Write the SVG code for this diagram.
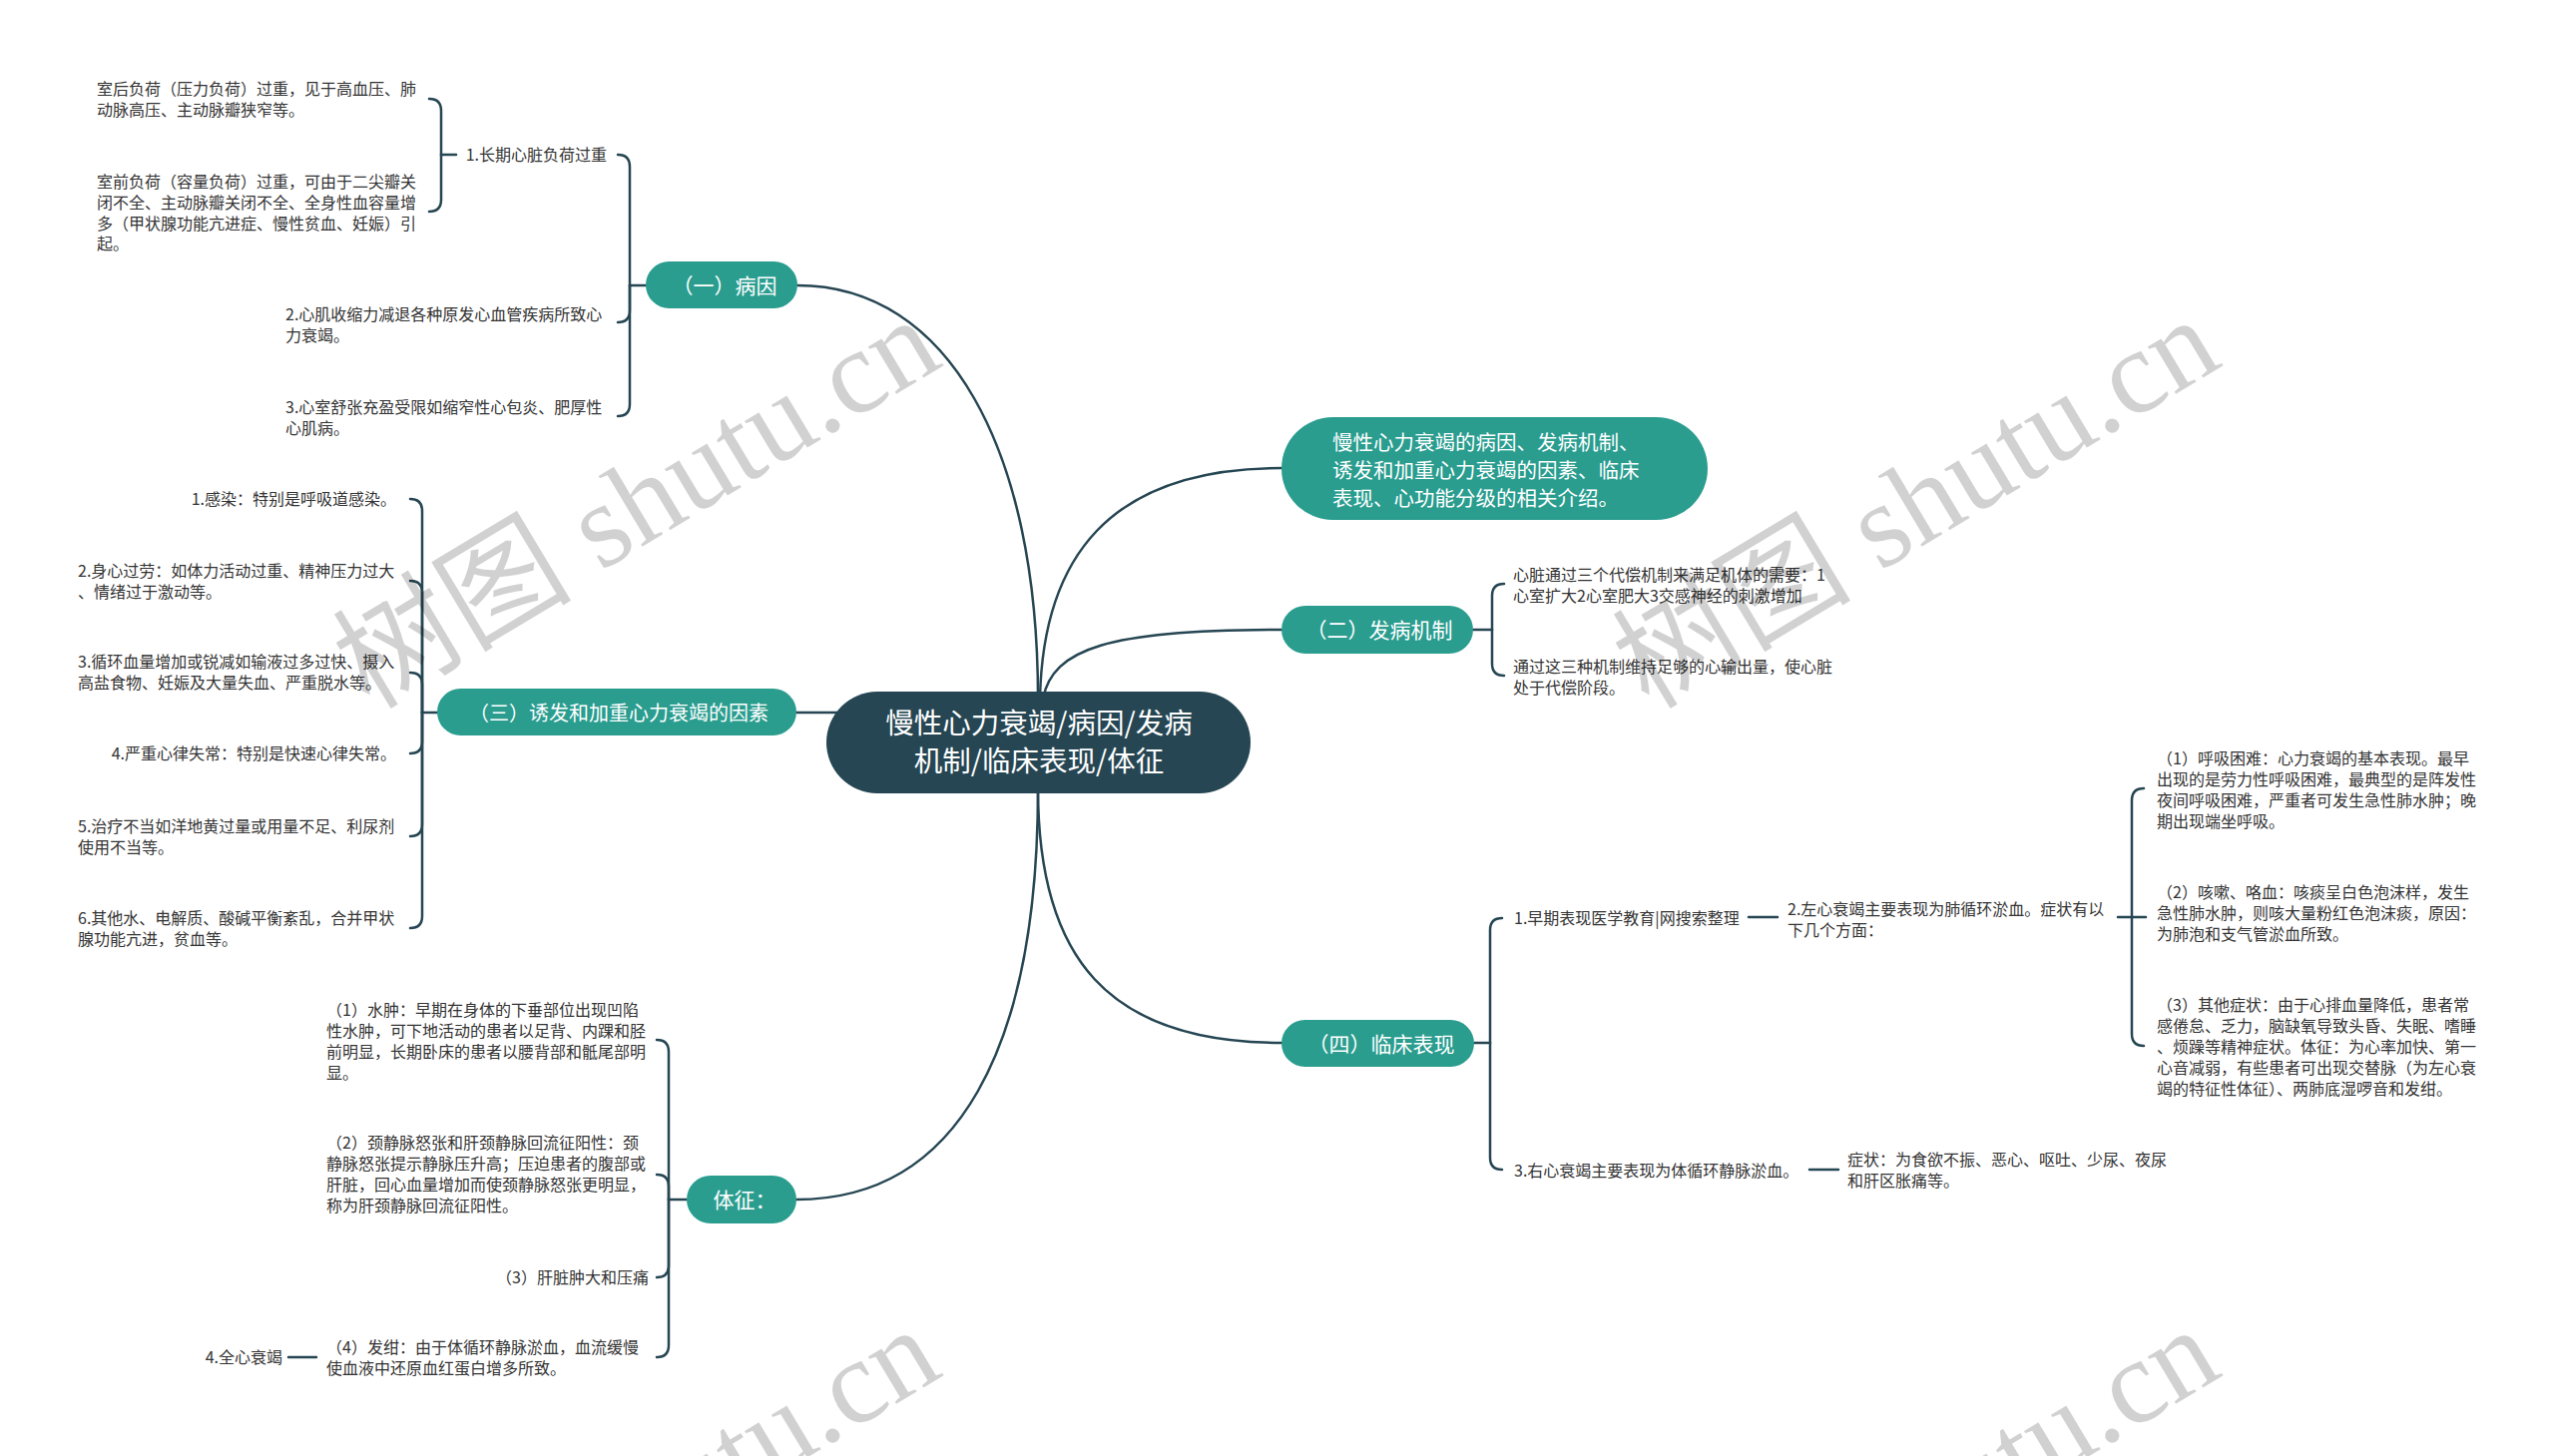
<svg xmlns="http://www.w3.org/2000/svg" width="2560" height="1459" viewBox="0 0 2560 1459">
<style>
.bg{fill:#ffffff}
.ln{fill:none;stroke:#264653;stroke-width:2.5;stroke-linecap:round}
.root{fill:#264653}
.main{fill:#2a9d8f}
.rt{font-family:"Noto Sans CJK SC","Noto Sans",sans-serif;font-size:28.5px;fill:#ffffff;text-anchor:middle}
.mt{font-family:"Noto Sans CJK SC","Noto Sans",sans-serif;font-size:21px;fill:#ffffff;text-anchor:middle}
.dt{font-family:"Noto Sans CJK SC","Noto Sans",sans-serif;font-size:20.5px;fill:#ffffff}
.t{font-family:"Noto Sans CJK SC","Noto Sans",sans-serif;font-size:16px;fill:#333333}
.e{text-anchor:end}
.wm{font-family:"Liberation Serif","Noto Sans CJK SC",serif;font-size:120px;fill:#000000;fill-opacity:0.18}
</style>
<rect class="bg" x="0" y="0" width="2560" height="1459"/>

<g id="connectors">
  <path class="ln" d="M 799 286 C 950 286, 1040 450, 1040 700"/>
  <path class="ln" d="M 1042 700 C 1045 560, 1110 469, 1284 469"/>
  <path class="ln" d="M 1045 700 C 1055 650, 1110 631, 1284 631"/>
  <path class="ln" d="M 798 714 L 840 714"/>
  <path class="ln" d="M 1040 790 C 1040 960, 1110 1045, 1284 1045"/>
  <path class="ln" d="M 1040 790 C 1040 1050, 960 1202, 798 1202"/>
  <path class="ln" d="M 647 286 L 631 286"/>
  <path class="ln" d="M 631 286 L 631 167 Q 631 155 619 155"/>
  <path class="ln" d="M 631 286 L 631 311 Q 631 323 619 323"/>
  <path class="ln" d="M 631 286 L 631 405 Q 631 417 619 417"/>
  <path class="ln" d="M 457 155 L 442 155"/>
  <path class="ln" d="M 442 155 L 442 111 Q 442 99 430 99"/>
  <path class="ln" d="M 442 155 L 442 200 Q 442 212 430 212"/>
  <path class="ln" d="M 438 714 L 423 714"/>
  <path class="ln" d="M 423 714 L 423 512 Q 423 500 411 500"/>
  <path class="ln" d="M 423 714 L 423 594 Q 423 582 411 582"/>
  <path class="ln" d="M 423 714 L 423 686 Q 423 674 411 674"/>
  <path class="ln" d="M 423 714 L 423 743 Q 423 755 411 755"/>
  <path class="ln" d="M 423 714 L 423 826 Q 423 838 411 838"/>
  <path class="ln" d="M 423 714 L 423 918 Q 423 930 411 930"/>
  <path class="ln" d="M 688 1202 L 670 1202"/>
  <path class="ln" d="M 670 1202 L 670 1054 Q 670 1042 658 1042"/>
  <path class="ln" d="M 670 1202 L 670 1189 Q 670 1177 658 1177"/>
  <path class="ln" d="M 670 1202 L 670 1268 Q 670 1280 658 1280"/>
  <path class="ln" d="M 670 1202 L 670 1348 Q 670 1360 658 1360"/>
  <path class="ln" d="M 289 1360 L 317 1360"/>
  <path class="ln" d="M 1476 631 L 1495 631"/>
  <path class="ln" d="M 1495 631 L 1495 597 Q 1495 585 1507 585"/>
  <path class="ln" d="M 1495 631 L 1495 665 Q 1495 677 1507 677"/>
  <path class="ln" d="M 1477 1045 L 1493 1045"/>
  <path class="ln" d="M 1493 1045 L 1493 932 Q 1493 920 1505 920"/>
  <path class="ln" d="M 1493 1045 L 1493 1160 Q 1493 1172 1505 1172"/>
  <path class="ln" d="M 1752 919 L 1781 919"/>
  <path class="ln" d="M 2122 919 L 2136 919"/>
  <path class="ln" d="M 2136 919 L 2136 802 Q 2136 790 2148 790"/>
  <path class="ln" d="M 2136 919 L 2150 919"/>
  <path class="ln" d="M 2136 919 L 2136 1036 Q 2136 1048 2148 1048"/>
  <path class="ln" d="M 1813 1172 L 1842 1172"/>
</g>

<g id="root">
  <rect class="root" x="828" y="693" width="425" height="102" rx="51"/>
  <text class="rt" x="1041" y="735">慢性心力衰竭/病因/发病</text>
  <text class="rt" x="1041" y="773">机制/临床表现/体征</text>
</g>

<g id="desc">
  <rect class="main" x="1284" y="418" width="427" height="103" rx="51.5"/>
  <text class="dt"><tspan x="1335" y="450.5">慢性心力衰竭的病因、发病机制、</tspan><tspan x="1335" y="478.5">诱发和加重心力衰竭的因素、临床</tspan><tspan x="1335" y="506.5">表现、心功能分级的相关介绍。</tspan></text>
</g>

<g id="n1">
  <rect class="main" x="647" y="262" width="152" height="47" rx="23.5"/>
  <text class="mt" x="726" y="293.5">（一）病因</text>
</g>
<g id="n1-1">
  <text class="t e" x="608" y="161">1.长期心脏负荷过重</text>
</g>
<g id="n1-1-1">
  <text class="t"><tspan x="97" y="94.5">室后负荷（压力负荷）过重，见于高血压、肺</tspan><tspan x="97" y="115.5">动脉高压、主动脉瓣狭窄等。</tspan></text>
</g>
<g id="n1-1-2">
  <text class="t"><tspan x="97" y="188">室前负荷（容量负荷）过重，可由于二尖瓣关</tspan><tspan x="97" y="209">闭不全、主动脉瓣关闭不全、全身性血容量增</tspan><tspan x="97" y="229.5">多（甲状腺功能亢进症、慢性贫血、妊娠）引</tspan><tspan x="97" y="250">起。</tspan></text>
</g>
<g id="n1-2">
  <text class="t"><tspan x="286" y="321">2.心肌收缩力减退各种原发心血管疾病所致心</tspan><tspan x="286" y="341.5">力衰竭。</tspan></text>
</g>
<g id="n1-3">
  <text class="t"><tspan x="286" y="414">3.心室舒张充盈受限如缩窄性心包炎、肥厚性</tspan><tspan x="286" y="434.5">心肌病。</tspan></text>
</g>

<g id="n2">
  <rect class="main" x="1284" y="607" width="192" height="48" rx="24"/>
  <text class="mt" x="1382" y="639">（二）发病机制</text>
</g>
<g id="n2-1">
  <text class="t"><tspan x="1516" y="582">心脏通过三个代偿机制来满足机体的需要：1</tspan><tspan x="1516" y="603">心室扩大2心室肥大3交感神经的刺激增加</tspan></text>
</g>
<g id="n2-2">
  <text class="t"><tspan x="1516" y="674">通过这三种机制维持足够的心输出量，使心脏</tspan><tspan x="1516" y="695">处于代偿阶段。</tspan></text>
</g>

<g id="n3">
  <rect class="main" x="438" y="690" width="360" height="47" rx="23.5"/>
  <text class="mt" x="620" y="721.5" style="font-size:20px">（三）诱发和加重心力衰竭的因素</text>
</g>
<g id="n3-1"><text class="t e" x="397" y="506">1.感染：特别是呼吸道感染。</text></g>
<g id="n3-2"><text class="t"><tspan x="78" y="578">2.身心过劳：如体力活动过重、精神压力过大</tspan><tspan x="78" y="599">、情绪过于激动等。</tspan></text></g>
<g id="n3-3"><text class="t"><tspan x="78" y="669">3.循环血量增加或锐减如输液过多过快、摄入</tspan><tspan x="78" y="690">高盐食物、妊娠及大量失血、严重脱水等。</tspan></text></g>
<g id="n3-4"><text class="t e" x="397" y="761">4.严重心律失常：特别是快速心律失常。</text></g>
<g id="n3-5"><text class="t"><tspan x="78" y="833.5">5.治疗不当如洋地黄过量或用量不足、利尿剂</tspan><tspan x="78" y="854.5">使用不当等。</tspan></text></g>
<g id="n3-6"><text class="t"><tspan x="78" y="926">6.其他水、电解质、酸碱平衡紊乱，合并甲状</tspan><tspan x="78" y="947">腺功能亢进，贫血等。</tspan></text></g>

<g id="n4">
  <rect class="main" x="1284" y="1022" width="193" height="47" rx="23.5"/>
  <text class="mt" x="1384" y="1053.5">（四）临床表现</text>
</g>
<g id="n4-1"><text class="t" x="1517" y="926">1.早期表现医学教育|网搜索整理</text></g>
<g id="n4-1-1"><text class="t"><tspan x="1791" y="917">2.左心衰竭主要表现为肺循环淤血。症状有以</tspan><tspan x="1791" y="938">下几个方面：</tspan></text></g>
<g id="n4-1-1-1"><text class="t"><tspan x="2161" y="766">（1）呼吸困难：心力衰竭的基本表现。最早</tspan><tspan x="2161" y="787">出现的是劳力性呼吸困难，最典型的是阵发性</tspan><tspan x="2161" y="808">夜间呼吸困难，严重者可发生急性肺水肿；晚</tspan><tspan x="2161" y="829">期出现端坐呼吸。</tspan></text></g>
<g id="n4-1-1-2"><text class="t"><tspan x="2161" y="900">（2）咳嗽、咯血：咳痰呈白色泡沫样，发生</tspan><tspan x="2161" y="921">急性肺水肿，则咳大量粉红色泡沫痰，原因：</tspan><tspan x="2161" y="942">为肺泡和支气管淤血所致。</tspan></text></g>
<g id="n4-1-1-3"><text class="t"><tspan x="2161" y="1013">（3）其他症状：由于心排血量降低，患者常</tspan><tspan x="2161" y="1034">感倦怠、乏力，脑缺氧导致头昏、失眠、嗜睡</tspan><tspan x="2161" y="1055">、烦躁等精神症状。体征：为心率加快、第一</tspan><tspan x="2161" y="1076">心音减弱，有些患者可出现交替脉（为左心衰</tspan><tspan x="2161" y="1097">竭的特征性体征）、两肺底湿啰音和发绀。</tspan></text></g>
<g id="n4-2"><text class="t" x="1517" y="1179">3.右心衰竭主要表现为体循环静脉淤血。</text></g>
<g id="n4-2-1"><text class="t"><tspan x="1851" y="1168">症状：为食欲不振、恶心、呕吐、少尿、夜尿</tspan><tspan x="1851" y="1189">和肝区胀痛等。</tspan></text></g>

<g id="n5">
  <rect class="main" x="688" y="1178" width="110" height="48" rx="24"/>
  <text class="mt" x="746" y="1210">体征：</text>
</g>
<g id="n5-1"><text class="t"><tspan x="327" y="1018">（1）水肿：早期在身体的下垂部位出现凹陷</tspan><tspan x="327" y="1039">性水肿，可下地活动的患者以足背、内踝和胫</tspan><tspan x="327" y="1059.5">前明显，长期卧床的患者以腰背部和骶尾部明</tspan><tspan x="327" y="1080.5">显。</tspan></text></g>
<g id="n5-2"><text class="t"><tspan x="327" y="1151">（2）颈静脉怒张和肝颈静脉回流征阳性：颈</tspan><tspan x="327" y="1172">静脉怒张提示静脉压升高；压迫患者的腹部或</tspan><tspan x="327" y="1193">肝脏，回心血量增加而使颈静脉怒张更明显，</tspan><tspan x="327" y="1214">称为肝颈静脉回流征阳性。</tspan></text></g>
<g id="n5-3"><text class="t e" x="650" y="1286">（3）肝脏肿大和压痛</text></g>
<g id="n5-4"><text class="t"><tspan x="327" y="1356">（4）发绀：由于体循环静脉淤血，血流缓慢</tspan><tspan x="327" y="1377">使血液中还原血红蛋白增多所致。</tspan></text></g>
<g id="n5-4-1"><text class="t e" x="283" y="1366">4.全心衰竭</text></g>

<g id="watermark">
  <text class="wm" x="370" y="712" transform="rotate(-31 370 712)">树图 shutu.cn</text>
  <text class="wm" x="1652" y="712" transform="rotate(-31 1652 712)">树图 shutu.cn</text>
  <text class="wm" x="370" y="1724" transform="rotate(-31 370 1724)">树图 shutu.cn</text>
  <text class="wm" x="1652" y="1724" transform="rotate(-31 1652 1724)">树图 shutu.cn</text>
</g>
</svg>
